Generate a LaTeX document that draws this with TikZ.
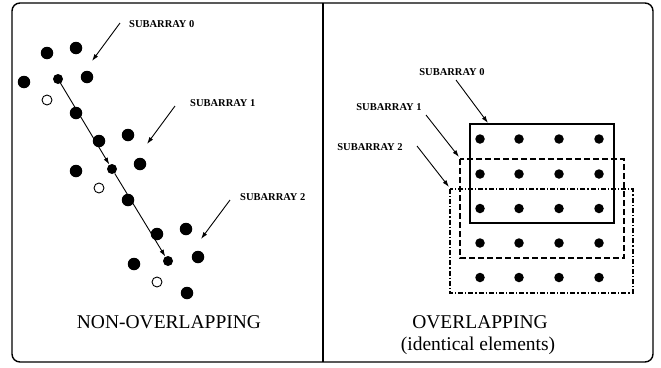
\documentclass[tikz,border=0pt]{standalone}
\usepackage{fontspec}
\setmainfont{Liberation Serif}
\usetikzlibrary{arrows.meta}
\begin{document}
\begin{tikzpicture}[x=1pt,y=-1pt,
  dot/.style={circle,fill=black,inner sep=0pt,minimum size=12.5pt},
  sdot/.style={circle,fill=black,inner sep=0pt,minimum size=10pt},
  odot/.style={circle,draw=black,line width=0.9pt,fill=white,inner sep=0pt,minimum size=10pt},
  gdot/.style={circle,fill=black,inner sep=0pt,minimum size=9.5pt},
  lab/.style={font=\fontsize{10.5}{12}\selectfont\bfseries,inner sep=1pt},
  big/.style={font=\fontsize{19.5}{22}\selectfont,inner sep=0pt},
  arr/.style={line width=0.9pt,-{Latex[length=7pt,width=4.5pt]}},
  solidbox/.style={line width=1.1pt},
  dashbox/.style={line width=1.1pt,dash pattern=on 6pt off 3pt},
  dashdotbox/.style={line width=1.1pt,dash pattern=on 5pt off 2pt on 1.2pt off 2pt},
]
\useasboundingbox (0,0) rectangle (661,367);
% frame
\draw[line width=1.4pt,rounded corners=8pt] (12,3) rectangle (653,362);
\draw[line width=1.2pt] (323,3) -- (323,362);

% ---------- left panel ----------
\node[dot] (a1) at (47,53) {};
\node[dot] (a2) at (76,48) {};
\node[dot] (a3) at (24,82) {};
\node[sdot] (a4) at (58,79) {};
\node[dot] (a5) at (87,77) {};
\node[odot] (o1) at (47,100) {};
\node[dot] (a6) at (76,113) {};
\node[dot] (a7) at (99,141) {};
\node[dot] (a8) at (128,135) {};
\node[sdot] (a9) at (112,169) {};
\node[dot] (a10) at (140,164) {};
\node[dot] (a11) at (76,171) {};
\node[odot] (o2) at (99,188) {};
\node[dot] (a12) at (128,200) {};
\node[dot] (a13) at (157,234) {};
\node[dot] (a14) at (186,229) {};
\node[sdot] (a15) at (168,261) {};
\node[dot] (a16) at (198,257) {};
\node[dot] (a17) at (134,264) {};
\node[odot] (o3) at (157,282) {};
\node[dot] (a18) at (187,293) {};

\draw[arr] (a4.center) -- (a9);
\draw[arr] (a9) -- (a15);

\node[lab,anchor=west] (l0) at (128,24) {SUBARRAY 0};
\node[lab,anchor=west] (l1) at (189,103) {SUBARRAY 1};
\node[lab,anchor=west] (l2) at (239,197) {SUBARRAY 2};
\coordinate (t0) at (92,61);
\coordinate (t1) at (147,144);
\coordinate (t2) at (201,239);
\draw[arr] (120,23) -- (t0);
\draw[arr] (175,106) -- (t1);
\draw[arr] (230,200) -- (t2);

\node[big] (nonov) at (169,322) {NON-OVERLAPPING};

% ---------- right panel ----------
\foreach \r/\y in {1/139,2/174,3/208.5,4/243,5/277.5}{
  \foreach \c/\x in {1/480,2/519,3/559,4/599}{
    \node[gdot] (g\r\c) at (\x,\y) {};
  }
}
\coordinate (s0a) at (470,124); \coordinate (s0b) at (614,223);
\coordinate (s1a) at (460,159); \coordinate (s1b) at (624,258);
\coordinate (s2a) at (450,189); \coordinate (s2b) at (633,293);
\draw[solidbox] (s0a) rectangle (s0b);
\draw[dashbox] (s1a) rectangle (s1b);
\draw[dashdotbox] (s2a) rectangle (s2b);

\node[lab] (r0) at (452,72) {SUBARRAY 0};
\node[lab] (r1) at (389,107) {SUBARRAY 1};
\node[lab] (r2) at (370,147) {SUBARRAY 2};
\coordinate (e0) at (488,123);
\coordinate (e1) at (459,157);
\coordinate (e2) at (449,187);
\draw[arr] (456,80) -- (e0);
\draw[arr] (426,115) -- (e1);
\draw[arr] (417,146) -- (e2);

\node[big] (ov) at (480,322) {OVERLAPPING};
\node[big] (ide) at (478,346) {(identical elements)};
\end{tikzpicture}
\end{document}
